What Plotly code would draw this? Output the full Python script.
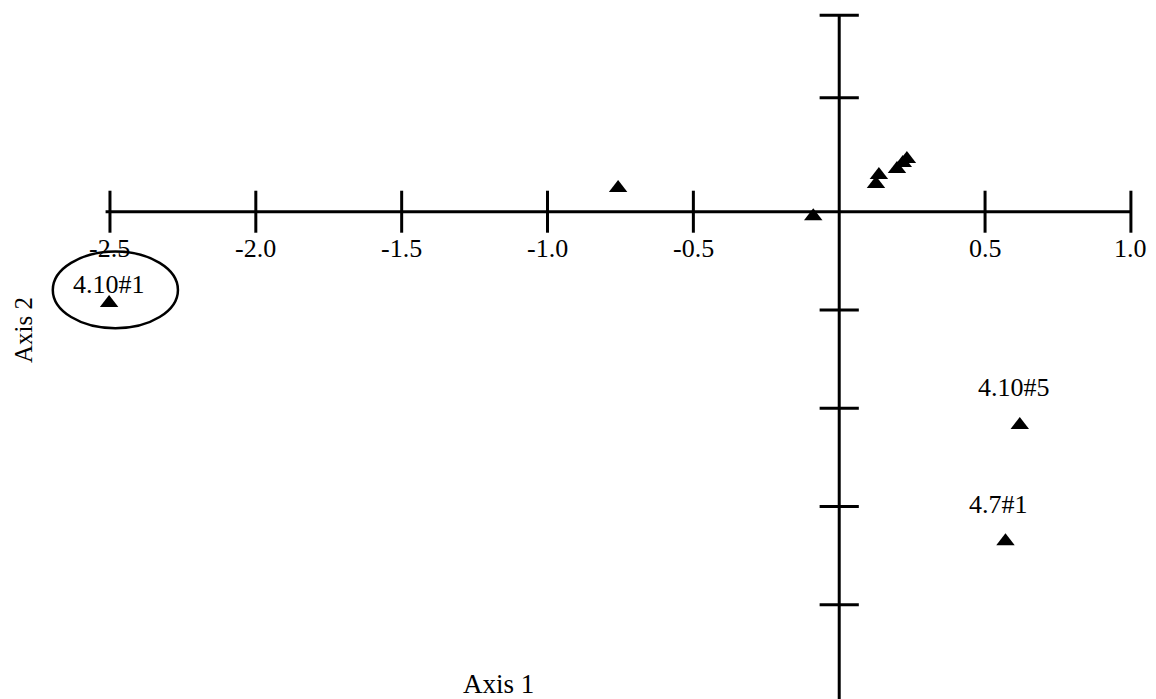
import plotly.graph_objects as go

# ---- data ----
axis1 = [-2.503, -0.758, -0.089, 0.126, 0.136, 0.198, 0.218, 0.232, 0.619, 0.570]
axis2 = [-0.465, 0.121, -0.023, 0.141, 0.187, 0.217, 0.248, 0.268, -1.085, -1.677]
point_labels = ["4.10#1", "", "", "", "", "", "", "", "4.10#5", "4.7#1"]

x_ticks = [-2.5, -2.0, -1.5, -1.0, -0.5, 0.5, 1.0]
x_tick_labels = ["-2.5", "-2.0", "-1.5", "-1.0", "-0.5", "0.5", "1.0"]
y_ticks = [1.0, 0.58, -0.5, -1.0, -1.5, -2.0, -2.5]

FONT = "Liberation Serif, Times New Roman, serif"

fig = go.Figure()

# axis lines
fig.add_shape(type="line", x0=-2.515, x1=1.0, y0=0, y1=0,
              line=dict(color="black", width=3), layer="below")
fig.add_shape(type="line", x0=0, x1=0, y0=-2.5, y1=1.0,
              line=dict(color="black", width=3), layer="below")

# tick marks
fig.add_trace(go.Scatter(x=x_ticks, y=[0] * len(x_ticks), mode="markers",
                         marker=dict(symbol="line-ns", size=30,
                                     line=dict(color="black", width=3)),
                         hoverinfo="skip", showlegend=False))
fig.add_trace(go.Scatter(x=[0] * len(y_ticks), y=y_ticks, mode="markers",
                         marker=dict(symbol="line-ew", size=28,
                                     line=dict(color="black", width=3)),
                         hoverinfo="skip", showlegend=False))

# data points
fig.add_trace(go.Scatter(x=axis1, y=axis2, mode="markers",
                         marker=dict(symbol="triangle-up", size=16, color="black"),
                         showlegend=False))

# tick labels
for xv, lab in zip(x_ticks, x_tick_labels):
    fig.add_annotation(x=xv, y=0, text=lab, showarrow=False, yshift=-37,
                       xanchor="center", yanchor="middle",
                       font=dict(family=FONT, size=26, color="black"))

# point labels
shifts = {"4.10#1": (0, 19), "4.10#5": (-6, 37), "4.7#1": (-7, 37)}
for xv, yv, lab in zip(axis1, axis2, point_labels):
    if lab:
        dx, dy = shifts[lab]
        fig.add_annotation(x=xv, y=yv, text=lab, showarrow=False,
                           xshift=dx, yshift=dy, xanchor="center", yanchor="middle",
                           font=dict(family=FONT, size=26, color="black"))

# highlight ellipse
fig.add_shape(type="circle", x0=-2.696, x1=-2.267, y0=-0.593, y1=-0.203,
              line=dict(color="black", width=2.5))

# axis titles
fig.add_annotation(xref="paper", yref="paper", x=498 / 1156, y=1 - 684 / 699,
                   text="Axis 1", showarrow=False, xanchor="center", yanchor="middle",
                   font=dict(family=FONT, size=27, color="black"))
fig.add_annotation(xref="paper", yref="paper", x=23 / 1156, y=1 - 330 / 699,
                   text="Axis 2", showarrow=False, textangle=-90,
                   xanchor="center", yanchor="middle",
                   font=dict(family=FONT, size=25, color="black"))

fig.update_layout(
    width=1156, height=699,
    margin=dict(l=0, r=0, t=0, b=0),
    paper_bgcolor="white", plot_bgcolor="white",
    xaxis=dict(range=[-2.877, 1.086], visible=False, fixedrange=True),
    yaxis=dict(range=[-2.479, 1.077], visible=False, fixedrange=True),
)

fig.write_html(
    "out.html",
    config={"displayModeBar": False},
    post_script="document.body.style.margin='0px';document.body.style.overflow='hidden';",
)
